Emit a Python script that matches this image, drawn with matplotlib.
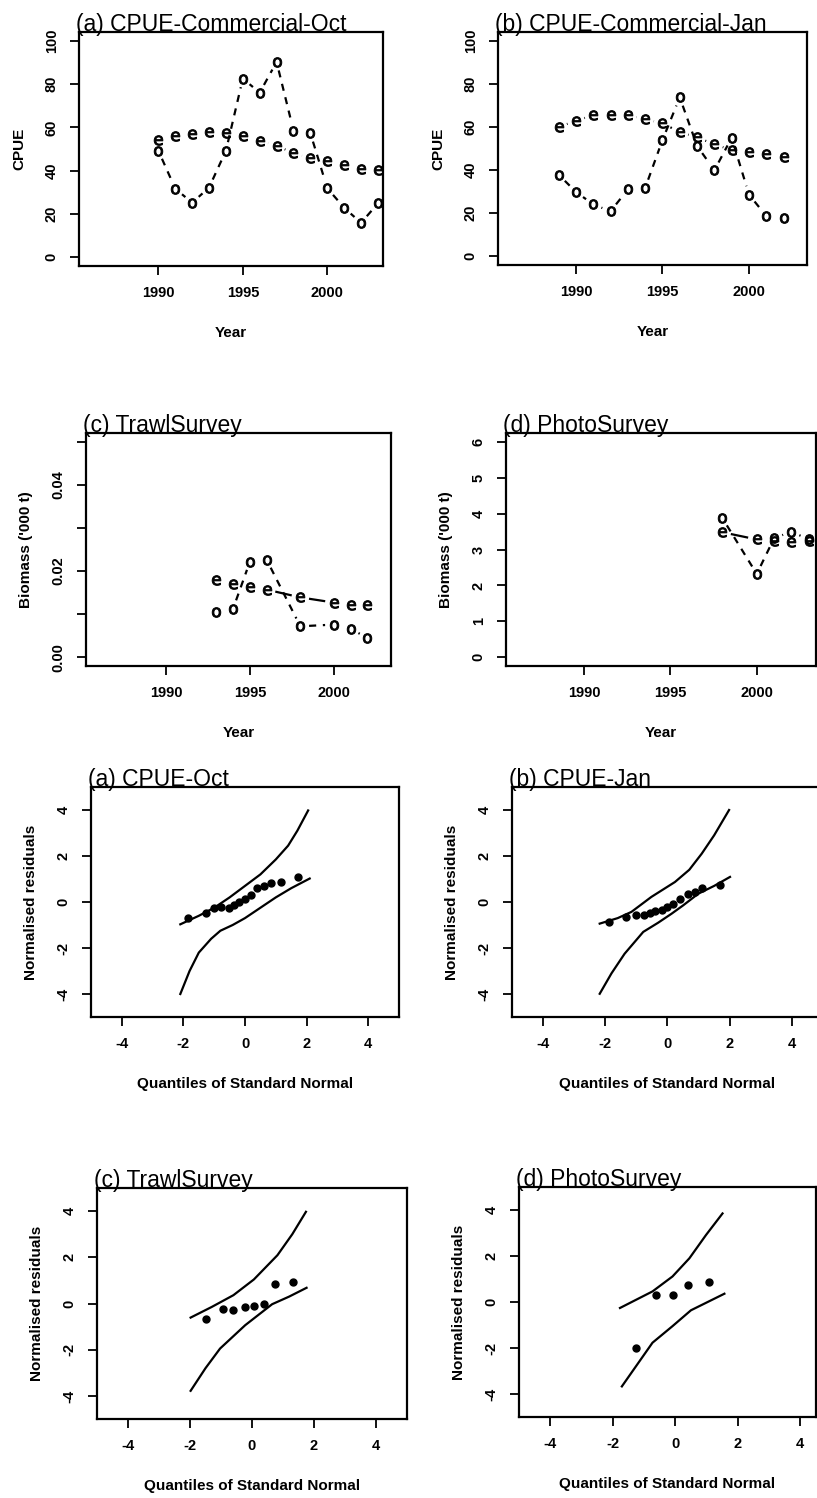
import matplotlib
matplotlib.use("Agg")
import matplotlib.pyplot as plt
import numpy as np

plt.rcParams['font.family'] = ['Liberation Sans', 'DejaVu Sans']

# ---------------- data ----------------
years_oct = [1990, 1991, 1992, 1993, 1994, 1995, 1996, 1997, 1998, 1999, 2000, 2001, 2002, 2003]
obs_oct = [49.2, 31.7, 25.2, 32.2, 49.2, 82.5, 76.0, 90.2, 58.5, 57.3, 31.9, 22.9, 15.9, 24.9]
fit_oct = [54.3, 56.2, 57.0, 58.0, 57.4, 55.9, 53.9, 51.5, 48.1, 45.7, 44.3, 42.6, 40.7, 40.4]

years_jan = [1989, 1990, 1991, 1992, 1993, 1994, 1995, 1996, 1997, 1998, 1999, 2000, 2001, 2002]
obs_jan = [37.9, 29.9, 24.1, 20.9, 31.0, 31.7, 53.9, 73.7, 51.2, 39.9, 55.0, 28.6, 18.7, 18.0]
fit_jan = [60.0, 62.8, 65.5, 65.5, 65.5, 63.6, 61.6, 57.7, 55.1, 52.0, 49.2, 48.5, 47.4, 46.1]

years_trawl = [1993, 1994, 1995, 1996, 1998, 2000, 2001, 2002]
obs_trawl = [0.0104, 0.0113, 0.0222, 0.0226, 0.0072, 0.0076, 0.0066, 0.0045]
fit_trawl = [0.0179, 0.0171, 0.0163, 0.0157, 0.0139, 0.0127, 0.0122, 0.0121]

years_photo = [1998, 2000, 2001, 2002, 2003]
obs_photo = [3.88, 2.32, 3.31, 3.50, 3.28]
fit_photo = [3.48, 3.28, 3.25, 3.20, 3.25]

# QQ plots: normal quantiles (x), normalised residuals (y), envelope lines
qq_oct_x = [-1.86, -1.27, -1.0, -0.78, -0.52, -0.35, -0.18, 0.0, 0.18, 0.4, 0.62, 0.84, 1.17, 1.71]
qq_oct_y = [-0.68, -0.49, -0.27, -0.2, -0.28, -0.13, -0.02, 0.15, 0.31, 0.59, 0.69, 0.81, 0.89, 1.09]
env_oct_up_x = [-2.1, -1.5, -1.0, -0.5, 0.0, 0.5, 1.0, 1.4, 1.7, 2.05]
env_oct_up_y = [-0.97, -0.6, -0.25, 0.2, 0.7, 1.2, 1.85, 2.45, 3.1, 3.98]
env_oct_lo_x = [-2.1, -1.8, -1.5, -1.1, -0.8, -0.4, 0.0, 0.5, 1.0, 1.5, 2.1]
env_oct_lo_y = [-4.0, -3.0, -2.2, -1.6, -1.25, -1.0, -0.7, -0.25, 0.2, 0.6, 1.02]

qq_jan_x = [-1.89, -1.34, -1.0, -0.75, -0.57, -0.39, -0.19, 0.0, 0.18, 0.4, 0.67, 0.88, 1.1, 1.69]
qq_jan_y = [-0.87, -0.65, -0.58, -0.55, -0.48, -0.41, -0.33, -0.22, -0.07, 0.14, 0.36, 0.43, 0.62, 0.72]
env_jan_up_x = [-2.18, -1.6, -1.16, -0.52, 0.24, 0.7, 1.1, 1.5, 1.98]
env_jan_up_y = [-0.94, -0.7, -0.43, 0.22, 0.87, 1.4, 2.1, 2.9, 4.0]
env_jan_lo_x = [-2.18, -1.8, -1.38, -0.78, -0.3, 0.13, 0.5, 0.99, 1.5, 2.01]
env_jan_lo_y = [-3.99, -3.1, -2.25, -1.3, -0.9, -0.51, -0.15, 0.36, 0.7, 1.09]

qq_trawl_x = [-1.5, -0.93, -0.6, -0.24, 0.06, 0.39, 0.74, 1.31]
qq_trawl_y = [-0.65, -0.25, -0.26, -0.17, -0.1, 0.0, 0.84, 0.91]
env_trawl_up_x = [-1.98, -1.3, -0.6, 0.06, 0.82, 1.3, 1.74]
env_trawl_up_y = [-0.61, -0.15, 0.36, 1.04, 2.09, 3.0, 3.97]
env_trawl_lo_x = [-1.98, -1.5, -1.03, -0.22, 0.65, 1.2, 1.76]
env_trawl_lo_y = [-3.78, -2.8, -1.95, -0.94, -0.03, 0.3, 0.68]

qq_photo_x = [-1.26, -0.62, -0.09, 0.39, 1.07]
qq_photo_y = [-2.02, 0.32, 0.32, 0.72, 0.85]
env_photo_up_x = [-1.77, -0.73, -0.09, 0.45, 0.98, 1.51]
env_photo_up_y = [-0.26, 0.46, 1.11, 1.9, 2.91, 3.85]
env_photo_lo_x = [-1.71, -0.73, -0.09, 0.5, 1.57]
env_photo_lo_y = [-3.67, -1.77, -1.05, -0.36, 0.36]

year_ticks = [1990, 1995, 2000]
qq_ticks = [-4, -2, 0, 2, 4]

# ---------------- figure ----------------
W, H = 817, 1498
fig = plt.figure(figsize=(W / 100, H / 100), dpi=100)

TICK_FS = 10.5
LAB_FS = 11
TITLE_FS = 16.5


def make_ax(L, R, T, B):
    ax = fig.add_axes([L / W, 1 - B / H, (R - L) / W, (B - T) / H])
    for s in ax.spines.values():
        s.set_linewidth(1.6)
    ax.tick_params(direction='out', length=6.5, width=1.3, labelsize=TICK_FS, pad=8)
    ax.tick_params(axis='y', labelrotation=90)
    ax._px = (R - L, B - T)
    return ax


def finish(ax, title, xlabel, ylabel):
    wpx, hpx = ax._px
    for lab in ax.get_xticklabels() + ax.get_yticklabels():
        lab.set_fontweight('bold')
        lab.set_fontsize(TICK_FS)
    for lab in ax.get_yticklabels():
        lab.set_verticalalignment('center')
    ax.set_xlabel(xlabel, fontsize=LAB_FS, fontweight='bold', va='center')
    ax.set_ylabel(ylabel, fontsize=LAB_FS, fontweight='bold', va='center')
    ax.xaxis.set_label_coords(0.5, -67 / hpx)
    ax.yaxis.set_label_coords(-60 / wpx, 0.5)
    ax.annotate(title, xy=(0, 1), xycoords='axes fraction', xytext=(-2.5, 0.5),
                textcoords='offset points', ha='left', va='baseline',
                fontsize=TITLE_FS)


def gapped(ax, xs, ys, gap, **kw):
    """R type='b' style: connect points, leaving a gap around each point."""
    T = ax.transData
    P = T.transform(np.column_stack([xs, ys]))
    inv = T.inverted()
    for p0, p1 in zip(P[:-1], P[1:]):
        d = p1 - p0
        L = np.hypot(d[0], d[1])
        if L <= 2 * gap:
            continue
        u = d / L
        a = inv.transform(p0 + u * gap)
        b = inv.transform(p1 - u * gap)
        ax.plot([a[0], b[0]], [a[1], b[1]], color='black', solid_capstyle='butt',
                dash_capstyle='butt', **kw)


def index_panel(ax, yrs, obs, fit, xlim, ylim, yticks, yticklabels, title, ylabel):
    ax.set_xlim(*xlim)
    ax.set_ylim(*ylim)
    ax.set_xticks(year_ticks)
    ax.set_xticklabels([str(t) for t in year_ticks])
    ax.set_yticks(yticks)
    ax.set_yticklabels(yticklabels)
    gapped(ax, yrs, obs, 8.8, lw=1.6, linestyle=(0, (3.2, 3.0)))
    gapped(ax, yrs, fit, 8.8, lw=1.6, linestyle='-')
    ax.plot(yrs, obs, linestyle='none', marker=r'$\mathrm{o}$', ms=7, color='black', mew=0.7)
    ax.plot(yrs, fit, linestyle='none', marker=r'$\mathrm{e}$', ms=7, color='black', mew=0.7)
    finish(ax, title, 'Year', ylabel)


def qq_panel(ax, px, py, ux, uy, lx, ly, xlim, title):
    ax.set_xlim(*xlim)
    ax.set_ylim(-5, 5)
    ax.set_xticks(qq_ticks)
    ax.set_xticklabels([str(t) for t in qq_ticks])
    ax.set_yticks(qq_ticks)
    ax.set_yticklabels([str(t) for t in qq_ticks])
    ax.plot(ux, uy, color='black', lw=1.6)
    ax.plot(lx, ly, color='black', lw=1.6)
    ax.plot(px, py, linestyle='none', marker='o', ms=5, color='black')
    finish(ax, title, 'Quantiles of Standard Normal', 'Normalised residuals')


# top row: CPUE
ax = make_ax(79, 383, 32, 266)
index_panel(ax, years_oct, obs_oct, fit_oct, (1985.3, 2003.3), (-4, 104),
            [0, 20, 40, 60, 80, 100], ['0', '20', '40', '60', '80', '100'],
            '(a) CPUE-Commercial-Oct', 'CPUE')

ax = make_ax(498, 807, 32, 265)
index_panel(ax, years_jan, obs_jan, fit_jan, (1985.5, 2003.35), (-4, 104),
            [0, 20, 40, 60, 80, 100], ['0', '20', '40', '60', '80', '100'],
            '(b) CPUE-Commercial-Jan', 'CPUE')

# second row: surveys
ax = make_ax(86, 391, 433, 666)
index_panel(ax, years_trawl, obs_trawl, fit_trawl, (1985.24, 2003.4), (-0.002, 0.052),
            [0.0, 0.01, 0.02, 0.03, 0.04, 0.05], ['0.00', '', '0.02', '', '0.04', ''],
            '(c) TrawlSurvey', "Biomass ('000 t)")

ax = make_ax(506, 816, 433, 666)
index_panel(ax, years_photo, obs_photo, fit_photo, (1985.48, 2003.43), (-0.24, 6.24),
            [0, 1, 2, 3, 4, 5, 6], ['0', '1', '2', '3', '4', '5', '6'],
            '(d) PhotoSurvey', "Biomass ('000 t)")

# QQ plots
ax = make_ax(91, 399, 787, 1017)
qq_panel(ax, qq_oct_x, qq_oct_y, env_oct_up_x, env_oct_up_y, env_oct_lo_x, env_oct_lo_y,
         (-5, 5), '(a) CPUE-Oct')

ax = make_ax(512, 823, 787, 1017)
qq_panel(ax, qq_jan_x, qq_jan_y, env_jan_up_x, env_jan_up_y, env_jan_lo_x, env_jan_lo_y,
         (-5, 5), '(b) CPUE-Jan')

ax = make_ax(97, 407, 1188, 1419)
qq_panel(ax, qq_trawl_x, qq_trawl_y, env_trawl_up_x, env_trawl_up_y, env_trawl_lo_x, env_trawl_lo_y,
         (-5, 5), '(c) TrawlSurvey')

ax = make_ax(519, 816, 1187, 1417)
qq_panel(ax, qq_photo_x, qq_photo_y, env_photo_up_x, env_photo_up_y, env_photo_lo_x, env_photo_lo_y,
         (-5, 4.5), '(d) PhotoSurvey')

fig.savefig('out.png', dpi=100)
